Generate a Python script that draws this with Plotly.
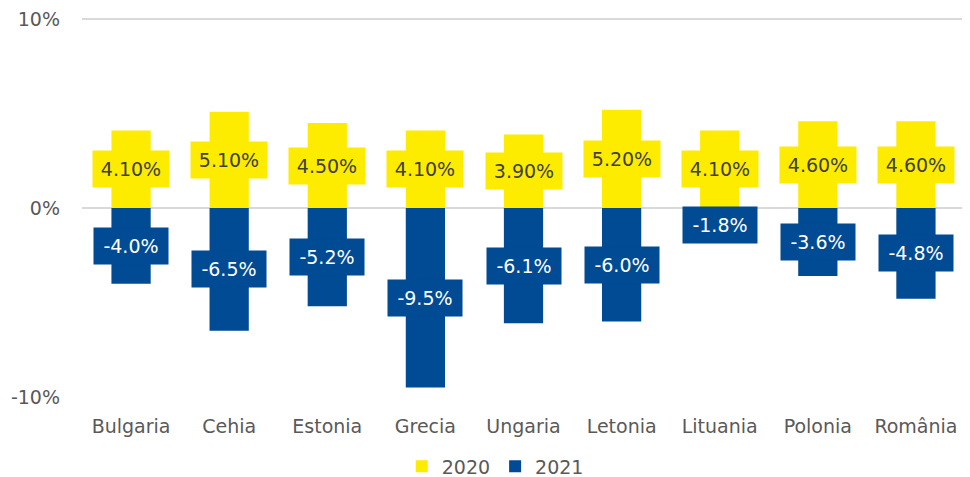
import plotly.graph_objects as go

countries = ["Bulgaria", "Cehia", "Estonia", "Grecia", "Ungaria", "Letonia", "Lituania", "Polonia", "România"]
v2020 = [4.1, 5.1, 4.5, 4.1, 3.9, 5.2, 4.1, 4.6, 4.6]
v2021 = [-4.0, -6.5, -5.2, -9.5, -6.1, -6.0, -1.8, -3.6, -4.8]
ytick_vals = [-10, 0, 10]
ytick_text = ["-10%", "0%", "10%"]

YELLOW = "#FDEB00"
BLUE = "#004B93"
FONT = "DejaVu Sans"

fig = go.Figure()
fig.add_trace(go.Bar(x=countries, y=v2020, name="2020", marker=dict(color=YELLOW, line=dict(width=0))))
fig.add_trace(go.Bar(x=countries, y=v2021, name="2021", marker=dict(color=BLUE, line=dict(width=0))))

annotations = []
for c, a, b in zip(countries, v2020, v2021):
    annotations.append(dict(x=c, y=a / 2, xref="x", yref="y", text=f"{a:.2f}%", showarrow=False,
                            bgcolor=YELLOW, width=72, height=32, borderpad=2,
                            font=dict(family=FONT, size=19, color="#404040")))
    annotations.append(dict(x=c, y=b / 2, xref="x", yref="y", text=f"{b:.1f}%", showarrow=False,
                            bgcolor=BLUE, width=70, height=32, borderpad=2,
                            font=dict(family=FONT, size=19, color="#FFFFFF")))

fig.update_layout(
    width=962, height=469,
    barmode="relative", bargap=0.6,
    plot_bgcolor="white", paper_bgcolor="white",
    margin=dict(l=74, r=5, t=10, b=80, autoexpand=False),
    font=dict(family=FONT, size=20, color="#595959"),
    annotations=annotations,
    showlegend=True,
    legend=dict(orientation="h", x=0.468, xanchor="center", y=-0.183, yanchor="middle",
                font=dict(family=FONT, size=19, color="#595959"), itemwidth=30,
                traceorder="normal"),
    xaxis=dict(showgrid=False, showline=False, ticks="", ticklabelstandoff=16, automargin=False,
               tickfont=dict(family=FONT, size=19, color="#595959")),
    yaxis=dict(range=[-10, 10.06], tickvals=ytick_vals, ticktext=ytick_text, automargin=False,
               ticklabeloverflow="allow",
               showgrid=True, gridcolor="#D9D9D9", gridwidth=1.5,
               zeroline=True, zerolinecolor="#D9D9D9", zerolinewidth=1.5,
               showline=False, ticks="", ticklabelstandoff=21,
               tickfont=dict(family=FONT, size=19, color="#595959")),
)

fig.write_html("out.html")
